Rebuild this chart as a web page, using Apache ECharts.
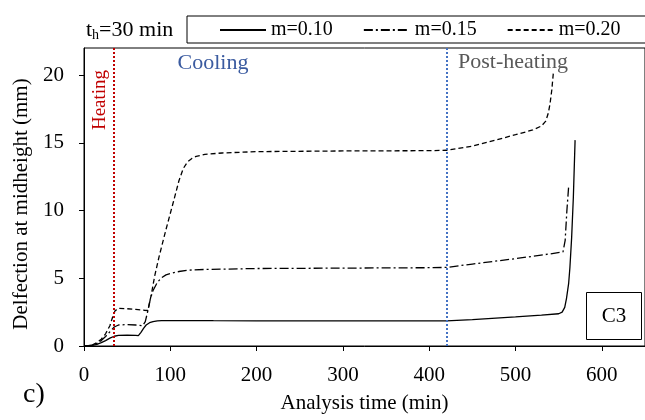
<!DOCTYPE html>
<html>
<head>
<meta charset="utf-8">
<script src="https://cdn.jsdelivr.net/npm/echarts@6/dist/echarts.min.js"></script>
<style>html,body{margin:0;padding:0;background:#fff}#c{width:645px;height:420px}</style>
</head>
<body>
<div id="c"></div>
<script>
// ---- data ----
var seriesNames = ['m=0.10', 'm=0.15', 'm=0.20'];
var tA = [0, 5, 10, 15, 20, 25, 30, 35, 40, 50, 60, 63, 66, 69, 72, 76, 80, 85, 90, 100, 120, 150, 200, 300, 400, 420, 450, 500, 530, 550, 554, 557, 559, 561.5, 563, 565, 567, 569];
var vA = [0, 0.02, 0.05, 0.12, 0.25, 0.4, 0.58, 0.72, 0.78, 0.8, 0.78, 0.76, 1.0, 1.3, 1.55, 1.72, 1.8, 1.85, 1.87, 1.88, 1.88, 1.87, 1.86, 1.85, 1.85, 1.85, 1.95, 2.15, 2.28, 2.38, 2.5, 2.85, 3.5, 4.6, 5.8, 8.0, 11.0, 15.2];
var tB = [0, 5, 10, 15, 20, 25, 30, 35, 40, 50, 60, 68, 71, 74, 77, 80, 85, 90, 95, 100, 110, 120, 140, 200, 300, 400, 420, 450, 500, 540, 555, 557.5, 559.5, 561.5];
var vB = [0, 0.02, 0.08, 0.2, 0.4, 0.7, 1.05, 1.4, 1.55, 1.58, 1.55, 1.5, 1.8, 2.6, 3.5, 4.1, 4.7, 5.05, 5.25, 5.35, 5.5, 5.6, 5.65, 5.72, 5.75, 5.78, 5.8, 6.05, 6.45, 6.8, 6.95, 7.8, 10.0, 11.75];
var tC = [0, 5, 10, 15, 20, 25, 30, 33, 36, 40, 50, 60, 70, 74, 78, 82, 87, 95, 103, 110, 115, 120, 125, 130, 140, 160, 200, 300, 400, 420, 450, 477, 500, 520, 530, 535, 538, 540, 542, 544];
var vC = [0, 0.02, 0.08, 0.25, 0.5, 0.9, 1.5, 2.1, 2.6, 2.78, 2.75, 2.7, 2.64, 2.62, 3.8, 5.2, 6.6, 8.6, 10.5, 12.2, 13.1, 13.6, 13.85, 14.0, 14.15, 14.25, 14.35, 14.4, 14.42, 14.45, 14.75, 15.2, 15.6, 15.95, 16.24, 16.6, 17.2, 17.9, 18.9, 20.3];
var phaseTimes = [35, 420];
var xTicks = [0, 100, 200, 300, 400, 500, 600];
var yTicks = [0, 5, 10, 15, 20];

function pairs(t, v) { return t.map(function (x, i) { return [x, v[i]]; }); }

var FONT = 'Liberation Serif';
var chart = echarts.init(document.getElementById('c'), null, { renderer: 'canvas' });
var lineBase = { color: '#000', width: 1.3 };
chart.setOption({
  animation: false,
  backgroundColor: '#fff',
  grid: { left: 84, right: 0, top: 48, bottom: 74, show: true, borderColor: '#000', borderWidth: 1, backgroundColor: 'transparent' },
  legend: {
    left: 187, top: 16, width: 600, padding: [4, 28, 3, 32], itemGap: 30, itemWidth: 46, itemHeight: 14,
    borderColor: '#000', borderWidth: 1, backgroundColor: '#fff',
    itemStyle: { opacity: 0, color: 'transparent', borderWidth: 0 },
    textStyle: { fontFamily: FONT, fontSize: 20, color: '#000' },
    data: seriesNames
  },
  xAxis: {
    type: 'value', min: 0, max: 650, interval: 100,
    name: 'Analysis time (min)', nameLocation: 'middle', nameGap: 47,
    nameTextStyle: { fontFamily: FONT, fontSize: 21, color: '#000' },
    axisLine: { show: true, lineStyle: { color: '#000', width: 1 } },
    axisTick: { show: true, inside: false, length: 5, lineStyle: { color: '#000' }, customValues: xTicks },
    axisLabel: { fontFamily: FONT, fontSize: 21, color: '#000', margin: 19, customValues: xTicks },
    splitLine: { show: false }
  },
  yAxis: {
    type: 'value', min: 0, max: 22, interval: 5,
    name: 'Delfection at midheight (mm)', nameLocation: 'middle', nameGap: 49,
    nameTextStyle: { fontFamily: FONT, fontSize: 21, color: '#000', padding: [0, 0, 0, -14] },
    axisLine: { show: true, lineStyle: { color: '#000', width: 1 } },
    axisTick: { show: true, inside: false, length: 5, lineStyle: { color: '#000' }, customValues: yTicks },
    axisLabel: { fontFamily: FONT, fontSize: 21, color: '#000', margin: 20, customValues: yTicks,
      formatter: function (v) { return v % 5 === 0 ? String(v) : ''; } },
    splitLine: { show: false }
  },
  series: [
    {
      name: seriesNames[0], type: 'line', symbol: 'none', data: pairs(tA, vA),
      lineStyle: Object.assign({ type: 'solid' }, lineBase), itemStyle: { color: '#000' },
      markLine: {
        silent: true, symbol: ['none', 'none'], label: { show: false },
        lineStyle: { type: [2, 2], width: 2 },
        data: [
          { xAxis: phaseTimes[0], lineStyle: { color: '#C00000', type: [2, 2], width: 2 } },
          { xAxis: phaseTimes[1], lineStyle: { color: '#4472C4', type: [2, 2], width: 2 } }
        ]
      }
    },
    {
      name: seriesNames[1], type: 'line', symbol: 'none', data: pairs(tB, vB),
      lineStyle: Object.assign({ type: [9, 3, 2, 3] }, lineBase), itemStyle: { color: '#000' }
    },
    {
      name: seriesNames[2], type: 'line', symbol: 'none', data: pairs(tC, vC),
      lineStyle: Object.assign({ type: [5, 3] }, lineBase), itemStyle: { color: '#000' }
    }
  ],
  graphic: [
    { type: 'text', left: 86, top: 19, style: {
        text: '{t|t}{s|h}{t|=30 min}',
        rich: { t: { fontFamily: FONT, fontSize: 22, fill: '#000' }, s: { fontFamily: FONT, fontSize: 14, fill: '#000', verticalAlign: 'bottom', padding: [10, 0, 0, 0] } }
      } },
    { type: 'text', x: 100, y: 100, rotation: Math.PI / 2, style: { text: 'Heating', fontFamily: FONT, fontSize: 19, fill: '#C00000', align: 'center', verticalAlign: 'middle' } },
    { type: 'text', x: 213, y: 63, style: { text: 'Cooling', fontFamily: FONT, fontSize: 22, fill: '#3B5BA0', align: 'center', verticalAlign: 'middle' } },
    { type: 'text', x: 513, y: 62, style: { text: 'Post-heating', fontFamily: FONT, fontSize: 22, fill: '#595959', align: 'center', verticalAlign: 'middle' } },
    { type: 'rect', shape: { x: 586.5, y: 292.5, width: 55, height: 47 }, style: { fill: '#fff', stroke: '#000', lineWidth: 1 } },
    { type: 'text', x: 614, y: 316, style: { text: 'C3', fontFamily: FONT, fontSize: 21, fill: '#000', align: 'center', verticalAlign: 'middle' } },
    { type: 'text', x: 34, y: 395, style: { text: 'c)', fontFamily: FONT, fontSize: 28, fill: '#000', align: 'center', verticalAlign: 'middle' } }
  ]
});
</script>
</body>
</html>
